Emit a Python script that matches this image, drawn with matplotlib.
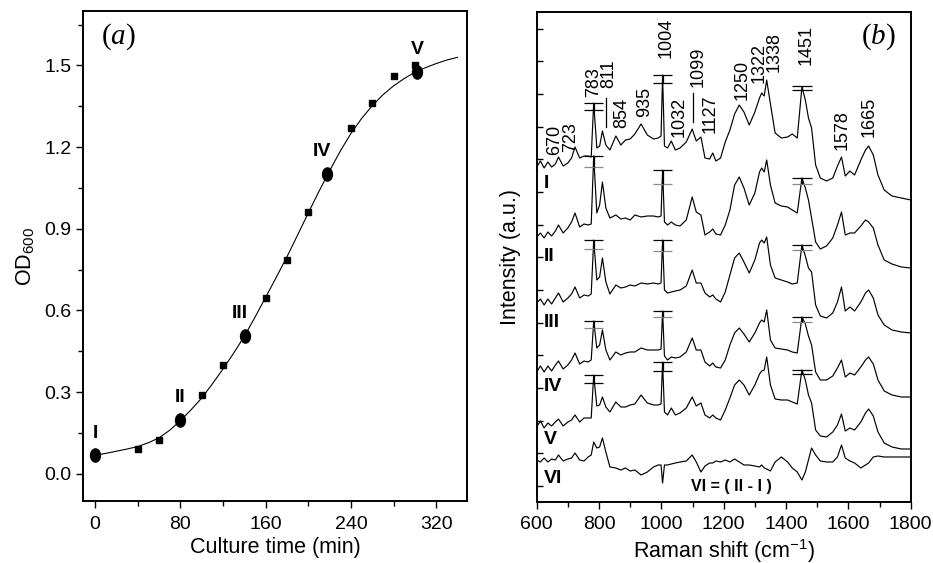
import numpy as np
import matplotlib
matplotlib.use("Agg")
import matplotlib.pyplot as plt
from matplotlib.path import Path
from matplotlib.transforms import Affine2D
from matplotlib.ticker import FormatStrFormatter, MultipleLocator

plt.rcParams['font.family'] = ['Liberation Sans', 'DejaVu Sans']
plt.rcParams['mathtext.fontset'] = 'custom'
plt.rcParams['mathtext.rm'] = 'Liberation Serif'
plt.rcParams['mathtext.it'] = 'Liberation Serif:italic'
plt.rcParams['mathtext.default'] = 'regular'

# ---- panel (a): growth curve ----
time_fit = [0, 10, 20, 30, 40, 50, 60, 70, 80, 90, 100, 110, 120, 130, 140, 150, 160, 170,
            180, 190, 200, 210, 220, 230, 240, 250, 260, 270, 280, 290, 300, 310, 320, 330, 340]
od_fit = [0.068, 0.075, 0.083, 0.091, 0.100, 0.114, 0.132, 0.160, 0.195, 0.235, 0.278, 0.330,
          0.385, 0.443, 0.505, 0.575, 0.648, 0.722, 0.797, 0.877, 0.958, 1.037, 1.113, 1.185,
          1.250, 1.305, 1.352, 1.392, 1.425, 1.452, 1.475, 1.492, 1.507, 1.520, 1.530]
time_meas = [40, 60, 100, 120, 160, 180, 200, 240, 260, 280, 300]
od_meas = [0.090, 0.123, 0.291, 0.401, 0.645, 0.786, 0.963, 1.269, 1.363, 1.461, 1.503]
time_stage = [0, 80, 141, 218, 302]
od_stage = [0.068, 0.199, 0.508, 1.103, 1.476]
stage_labels = ['I', 'II', 'III', 'IV', 'V']

# ---- panel (b): Raman spectra ----
wavenumber = [600, 612, 624, 636, 648, 660, 670, 685, 700, 712,
              723, 738, 752, 765, 775, 783, 793, 802, 811, 822,
              835, 854, 870, 885, 900, 915, 935, 955, 975, 990,
              999, 1004, 1010, 1020, 1032, 1045, 1060, 1080, 1099, 1112,
              1127, 1140, 1155, 1165, 1175, 1190, 1205, 1220, 1235, 1250,
              1265, 1282, 1300, 1315, 1322, 1330, 1338, 1350, 1365, 1385,
              1405, 1420, 1436, 1451, 1462, 1472, 1482, 1495, 1510, 1530,
              1550, 1565, 1578, 1590, 1605, 1620, 1640, 1655, 1665, 1680,
              1695, 1715, 1740, 1770, 1800]
spec_I = [333, 339, 332, 338, 333, 336, 343, 334, 337, 342,
          353, 342, 344, 344, 343, 397, 352, 354, 369, 355,
          350, 364, 355, 360, 361, 366, 376, 365, 361, 362,
          364, 425, 354, 352, 359, 350, 352, 358, 371, 359,
          363, 342, 341, 347, 339, 342, 358, 370, 386, 395,
          388, 375, 388, 402, 407, 404, 420, 396, 367, 362,
          363, 366, 362, 413, 400, 382, 372, 335, 322, 319,
          322, 334, 343, 324, 329, 325, 340, 350, 354, 345,
          325, 310, 304, 302, 300]
spec_II = [263, 267, 262, 268, 264, 269, 275, 267, 272, 278,
           287, 273, 276, 275, 276, 344, 287, 295, 318, 292,
           282, 285, 281, 282, 280, 285, 283, 284, 284, 283,
           284, 330, 278, 275, 278, 275, 274, 280, 303, 288,
           285, 265, 268, 271, 266, 265, 275, 290, 315, 323,
           312, 295, 307, 328, 332, 328, 340, 315, 297, 294,
           293, 290, 287, 322, 312, 300, 282, 258, 251, 254,
           262, 275, 288, 265, 267, 267, 274, 280, 278, 272,
           255, 240, 236, 233, 232]
spec_III = [197, 201, 195, 201, 196, 202, 207, 198, 202, 206,
            213, 202, 205, 204, 206, 260, 220, 223, 242, 218,
            206, 215, 212, 213, 215, 214, 217, 216, 217, 216,
            217, 260, 210, 207, 208, 209, 210, 214, 230, 217,
            217, 207, 203, 205, 201, 198, 208, 225, 242, 247,
            238, 227, 240, 257, 260, 257, 263, 235, 222, 220,
            218, 216, 217, 255, 244, 232, 228, 195, 184, 182,
            187, 198, 213, 189, 193, 189, 198, 207, 210, 202,
            185, 175, 170, 168, 167]
spec_IV = [128, 134, 128, 134, 129, 135, 139, 131, 135, 140,
           147, 136, 139, 138, 140, 179, 152, 155, 170, 150,
           140, 148, 145, 147, 148, 148, 152, 150, 150, 150,
           151, 189, 144, 140, 143, 142, 143, 148, 162, 150,
           150, 138, 134, 137, 133, 132, 140, 155, 167, 172,
           166, 158, 167, 177, 180, 178, 190, 160, 152, 151,
           150, 148, 147, 183, 176, 164, 155, 128, 120, 120,
           124, 132, 140, 123, 127, 125, 133, 140, 143, 136,
           120, 109, 105, 103, 103]
spec_V = [73, 79, 72, 77, 74, 78, 81, 74, 78, 80,
          85, 78, 82, 82, 82, 125, 94, 95, 103, 93,
          88, 98, 93, 93, 95, 96, 105, 97, 95, 95,
          96, 138, 88, 85, 92, 85, 87, 92, 103, 94,
          97, 85, 82, 85, 82, 80, 90, 102, 115, 120,
          115, 105, 115, 126, 129, 130, 143, 115, 101, 100,
          100, 98, 96, 130, 120, 105, 97, 70, 64, 63,
          68, 75, 86, 69, 72, 70, 78, 87, 91, 84,
          68, 57, 53, 51, 51]
spec_VI = [40, 38, 42, 38, 41, 40, 45, 39, 41, 42,
           47, 40, 39, 43, 45, 58, 52, 53, 62, 48,
           33, 32, 30, 32, 29, 30, 25, 28, 33, 35,
           35, 17, 35, 35, 36, 37, 38, 39, 45, 38,
           28, 34, 37, 37, 39, 38, 40, 38, 41, 38,
           35, 35, 34, 33, 35, 32, 31, 29, 38, 43,
           38, 32, 28, 20, 28, 40, 52, 45, 39, 38,
           38, 43, 55, 42, 39, 37, 32, 35, 37, 43,
           44, 43, 43, 43, 43]
spectra = [spec_I, spec_II, spec_III, spec_IV, spec_V, spec_VI]
spec_labels = ['I', 'II', 'III', 'IV', 'V', 'VI']

# intensity spread of the marked bands (upper / lower level) for spectra I-V
bar_wn = [783, 1004, 1451]
bar_upper = [[397, 425, 414], [344, 330, 322], [260, 260, 255], [179, 189, 183], [125, 138, 130]]
bar_lower = [[390, 417, 410], [333, 316, 316], [251, 249, 250], [172, 183, 178], [117, 129, 126]]

peak_labels = ['670', '723', '783', '811', '854', '935', '1004', '1032',
               '1099', '1127', '1250', '1322', '1338', '1451', '1578', '1665']

# ---- layout ----
stage_offsets = [(0, 16), (0, 16), (-4, 16), (-4, 16), (0, 16)]
label_x = [659, 708, 782, 832, 874, 945, 1015, 1057, 1118, 1155, 1258, 1314, 1362, 1464, 1579, 1666]
label_y = [345, 348, 403, 412, 372, 383, 442, 363, 413, 367, 400, 417, 428, 435, 350, 363]
leaders = [(822, 373, 402), (1102, 378, 407)]
spec_label_y = [317, 243.5, 177, 113.5, 60, 21.5]

fig = plt.figure(figsize=(9.33, 5.63), dpi=100)

# panel (a)
ax1 = fig.add_axes([0.0890, 0.1101, 0.4116, 0.8703])
ax1.plot(time_fit, od_fit, color='black', lw=0.8)
ax1.plot(time_meas, od_meas, 's', color='black', ms=4.2)
ellipse = Path.unit_circle().transformed(Affine2D().scale(0.75, 1.0))
ax1.plot(time_stage, od_stage, ls='none', marker=ellipse, ms=9.5, color='black')
for t, od, lab, off in zip(time_stage, od_stage, stage_labels, stage_offsets):
    ax1.annotate(lab, (t, od), xytext=off, textcoords='offset points',
                 ha='center', va='center', fontsize=14, fontweight='bold')
ax1.text(21.6, 1.605, r'($\mathit{a}$)', fontsize=21, ha='center', va='center',
         family='Liberation Serif')
ax1.set_xlim(-11.3, 349)
ax1.set_ylim(-0.1, 1.7)
ax1.set_xticks([0, 80, 160, 240, 320])
ax1.xaxis.set_minor_locator(MultipleLocator(40))
ax1.set_yticks([0.0, 0.3, 0.6, 0.9, 1.2, 1.5])
ax1.set_yticks([0.15, 0.45, 0.75, 1.05, 1.35, 1.65], minor=True)
ax1.yaxis.set_major_formatter(FormatStrFormatter('%.1f'))
ax1.tick_params(which='both', direction='out', labelsize=14, width=1)
ax1.tick_params(which='major', length=5)
ax1.tick_params(which='minor', length=3.5)
ax1.tick_params(axis='x', pad=6)
ax1.set_xlabel('Culture time (min)', fontsize=15.5, labelpad=3)
ax1.set_ylabel('OD$_{600}$', fontsize=15.5, labelpad=5)
for s in ax1.spines.values():
    s.set_linewidth(1.4)

# panel (b)
ax2 = fig.add_axes([0.5752, 0.1089, 0.4009, 0.8703])
for spec in spectra:
    ax2.plot(wavenumber, spec, color='black', lw=0.85)
for k, (up, lo) in enumerate(zip(bar_upper, bar_lower)):
    lo_color = '#8a8a8a' if k in (1, 2, 3) else 'black'
    ax2.hlines(up, [w - 31 for w in bar_wn], [w + 31 for w in bar_wn], color='black', lw=0.9)
    ax2.hlines(lo, [w - 31 for w in bar_wn], [w + 31 for w in bar_wn], color=lo_color, lw=0.9)
    ax2.vlines(bar_wn, lo, up, color='black', lw=0.9)
for lab, x, y in zip(peak_labels, label_x, label_y):
    ax2.text(x, y, lab, rotation=90, ha='center', va='bottom', fontsize=13)
for x, y0, y1 in leaders:
    ax2.plot([x, x], [y0, y1], color='black', lw=0.9)
for lab, y in zip(spec_labels, spec_label_y):
    ax2.text(622, y, lab, ha='left', va='center', fontsize=14, fontweight='bold')
ax2.text(1224, 13.5, 'VI = ( II - I )', ha='center', va='center', fontsize=11.5, fontweight='bold')
ax2.text(1697, 463, r'($\mathit{b}$)', fontsize=21, ha='center', va='center',
         family='Liberation Serif')
ax2.set_xlim(600, 1800)
ax2.set_ylim(-1.7, 488.3)
ax2.set_xticks([600, 800, 1000, 1200, 1400, 1600, 1800])
ax2.xaxis.set_minor_locator(MultipleLocator(100))
ax2.set_yticks(np.linspace(14, 471.4, 15))
ax2.set_yticklabels([])
ax2.tick_params(axis='x', which='both', direction='out', labelsize=14, width=1, pad=5)
ax2.tick_params(axis='x', which='major', length=5)
ax2.tick_params(axis='x', which='minor', length=3.5)
ax2.tick_params(axis='y', direction='in', length=4, width=1)
ax2.set_xlabel('Raman shift (cm$^{-1}$)', fontsize=15.5, labelpad=3)
ax2.set_ylabel('Intensity (a.u.)', fontsize=15.5, labelpad=8)
for s in ax2.spines.values():
    s.set_linewidth(1.4)

fig.savefig('out.png', dpi=100)
